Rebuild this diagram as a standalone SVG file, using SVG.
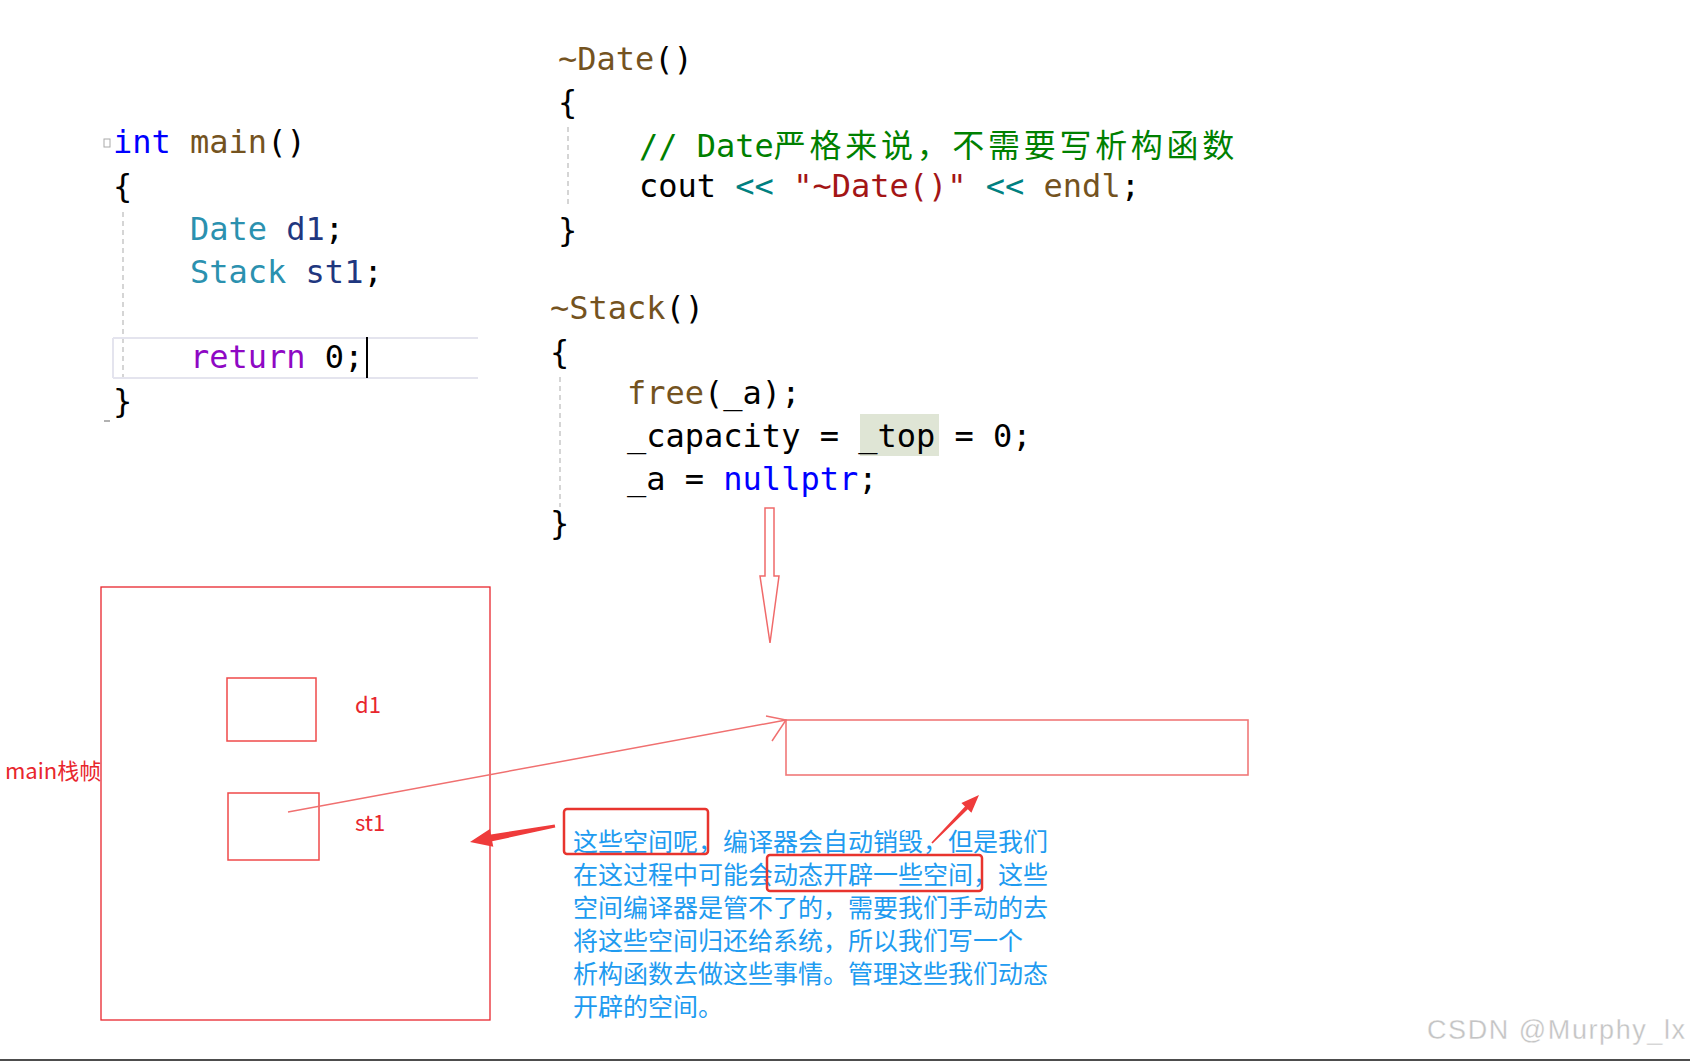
<svg xmlns="http://www.w3.org/2000/svg" width="1690" height="1061" viewBox="0 0 1690 1061">
<style>
.code{font-family:"DejaVu Sans Mono","Liberation Mono",monospace;font-size:32px;fill:#000}
.cjk{font-family:"Noto Sans CJK SC",sans-serif;font-size:32px;letter-spacing:3.7px}
.kw{fill:#0000ff}.fn{fill:#74531f}.ty{fill:#2b91af}.var{fill:#1f377f}.ret{fill:#8f08c4}
.cm{fill:#008000}.op{fill:#008080}.str{fill:#a31515}
.guide{stroke:#c8c8c8;stroke-width:1.5;stroke-dasharray:5 4;fill:none}
.lbl{font-family:"Noto Sans CJK SC","Liberation Sans",sans-serif;font-size:22px;fill:#e8262d}
.note{font-family:"Noto Sans CJK SC",sans-serif;font-size:25px;fill:#1e9bf0}
.box{fill:none;stroke:#ef4a4a;stroke-width:1.5}
.hl{fill:none;stroke:#e8342e;stroke-width:2.5}
</style>
<rect width="1690" height="1061" fill="#fff"/>

<g id="main-code">
<rect x="104" y="139" width="6" height="8" fill="none" stroke="#aaa" stroke-width="1"/>
<line x1="123" y1="212" x2="123" y2="378" class="guide"/>
<path d="M113 338 H478 M113 378 H478 M113 338 V378" stroke="#e4e4ee" stroke-width="2" fill="none"/>
<line x1="367" y1="337" x2="367" y2="378" stroke="#000" stroke-width="2"/>
<line x1="104" y1="421" x2="110" y2="421" stroke="#999" stroke-width="1.5"/>
<text class="code" x="113" y="153"><tspan class="kw">int</tspan> <tspan class="fn">main</tspan>()</text>
<text class="code" x="113" y="197">{</text>
<text class="code" x="190" y="240"><tspan class="ty">Date</tspan> <tspan class="var">d1</tspan>;</text>
<text class="code" x="190" y="283"><tspan class="ty">Stack</tspan> <tspan class="var">st1</tspan>;</text>
<text class="code" x="190" y="368"><tspan class="ret">return</tspan> 0;</text>
<text class="code" x="113" y="412">}</text>
</g>

<g id="date-dtor">
<line x1="568" y1="127" x2="568" y2="205" class="guide"/>
<text class="code" x="558" y="70"><tspan class="fn">~Date</tspan>()</text>
<text class="code" x="558" y="113">{</text>
<text class="code cm" x="639" y="157">// Date<tspan class="cjk">严格来说，不需要写析构函数</tspan></text>
<text class="code" x="639" y="197">cout <tspan class="op">&lt;&lt;</tspan> <tspan class="str">"~Date()"</tspan> <tspan class="op">&lt;&lt;</tspan> <tspan class="fn">endl</tspan>;</text>
<text class="code" x="558" y="241">}</text>
</g>

<g id="stack-dtor">
<line x1="560" y1="377" x2="560" y2="507" class="guide"/>
<rect x="860" y="414" width="79" height="42" fill="#dfe5d5"/>
<text class="code" x="550" y="319"><tspan class="fn">~Stack</tspan>()</text>
<text class="code" x="550" y="363">{</text>
<text class="code" x="627" y="404"><tspan class="fn">free</tspan>(_a);</text>
<text class="code" x="627" y="447">_capacity = _top = 0;</text>
<text class="code" x="627" y="490">_a = <tspan class="kw">nullptr</tspan>;</text>
<text class="code" x="550" y="534">}</text>
</g>

<g id="main-frame">
<rect x="101" y="587" width="389" height="433" fill="none" stroke="#e8262d" stroke-width="1.3"/>
<text class="lbl" x="5" y="779">main栈帧</text>
</g>
<g id="d1">
<rect x="227" y="678" width="89" height="63" class="box"/>
<text class="lbl" x="355" y="713">d1</text>
</g>
<g id="st1">
<rect x="228" y="793" width="91" height="67" class="box"/>
<text class="lbl" x="355" y="831">st1</text>
</g>
<g id="heap-block">
<rect x="786" y="720" width="462" height="55" fill="none" stroke="#f07878" stroke-width="1.6"/>
</g>

<g id="note">
<text class="note"><tspan x="573" y="851">这些空间呢，编译器会自动销毁，但是我们</tspan><tspan x="573" y="884">在这过程中可能会动态开辟一些空间，这些</tspan><tspan x="573" y="917">空间编译器是管不了的，需要我们手动的去</tspan><tspan x="573" y="950">将这些空间归还给系统，所以我们写一个</tspan><tspan x="573" y="983">析构函数去做这些事情。管理这些我们动态</tspan><tspan x="573" y="1016">开辟的空间。</tspan></text>
<rect x="564" y="809" width="144" height="45" rx="3" class="hl"/>
<rect x="767" y="855" width="215" height="36" rx="3" class="hl"/>
</g>

<g id="connectors">
<polygon points="765,508 774,508 774,576 779,576 770,643 760,576 765,576" fill="none" stroke="#f06a6a" stroke-width="1.5"/>
<line x1="288" y1="812" x2="786" y2="720" stroke="#f07070" stroke-width="1.5"/>
<path d="M766 716 L786 720 L772 741" fill="none" stroke="#f07070" stroke-width="1.5"/>
<polygon points="470,842 493.3,846.7 492.2,841.3 555.3,827.5 554.7,824.5 490.9,834.5 489.9,829.1" fill="#ef3b3b"/>
<polygon points="979,795 971.4,812.8 967.8,809.3 932.6,843.6 931.4,842.4 965,806.5 961.4,803" fill="#ef3b3b"/>
</g>

<text x="1427" y="1039" font-family="Liberation Sans,Arial,sans-serif" font-size="27" fill="#c4c4c4" stroke="#fff" stroke-width="0.3" textLength="258">CSDN @Murphy_lx</text>
<rect x="0" y="1059" width="1690" height="2" fill="#4d4d4d"/>
</svg>
